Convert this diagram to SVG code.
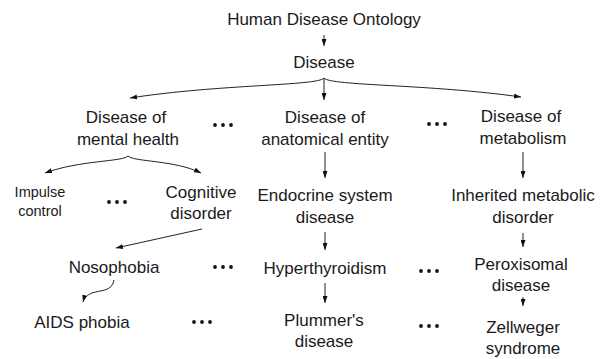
<svg xmlns="http://www.w3.org/2000/svg" width="610" height="359" viewBox="0 0 610 359">
<style>
text{font-family:"Liberation Sans",Arial,sans-serif;font-size:17px;fill:#1a1a1a;text-anchor:middle}
text.s{font-size:14.5px}
.c{fill:none;stroke:#222;stroke-width:1}
.d{fill:#111}
</style>
<defs>
<marker id="ah" viewBox="0 0 7 5" refX="7" refY="2.5" markerWidth="7" markerHeight="5" markerUnits="userSpaceOnUse" orient="auto">
<path d="M0,0 L7,2.5 L0,5 z" fill="#111"/>
</marker>
<g id="dots"><circle cx="0" cy="0" r="1.9"/><circle cx="8" cy="0" r="1.9"/><circle cx="16" cy="0" r="1.9"/></g>
</defs>
<rect width="610" height="359" fill="#fff"/>
<g id="connectors">
<path class="c" d="M324,35 L324,46" marker-end="url(#ah)"/>
<path class="c" d="M324,78 C318,86 220,84 130,98" marker-end="url(#ah)"/>
<path class="c" d="M324,78 L324,100" marker-end="url(#ah)"/>
<path class="c" d="M324,78 C330,86 430,84 521,97" marker-end="url(#ah)"/>
<path class="c" d="M128,156 C122,162 80,160 45,173" marker-end="url(#ah)"/>
<path class="c" d="M128,156 C134,162 175,160 201,173" marker-end="url(#ah)"/>
<path class="c" d="M325,152 L325,178" marker-end="url(#ah)"/>
<path class="c" d="M523,152 L523,178" marker-end="url(#ah)"/>
<path class="c" d="M202,229 L116,248" marker-end="url(#ah)"/>
<path class="c" d="M325,232 L325,250" marker-end="url(#ah)"/>
<path class="c" d="M523,233 L523,247" marker-end="url(#ah)"/>
<path class="c" d="M114,280 C112,292 100,290 92,293 C87,295 84,298 83,302" marker-end="url(#ah)"/>
<path class="c" d="M325,283 L325,303" marker-end="url(#ah)"/>
<path class="c" d="M523,297 L523,306" marker-end="url(#ah)"/>
</g>
<g id="n-root"><text x="324" y="25">Human Disease Ontology</text></g>
<g id="n-disease"><text x="324" y="68">Disease</text></g>
<g id="n-mental"><text x="126" y="123">Disease of</text><text x="128" y="145">mental health</text></g>
<g id="n-anat"><text x="325" y="123">Disease of</text><text x="325" y="145">anatomical entity</text></g>
<g id="n-metab"><text x="521" y="122">Disease of</text><text x="523" y="144">metabolism</text></g>
<g id="n-impulse"><text class="s" x="40" y="197">Impulse</text><text class="s" x="40" y="216">control</text></g>
<g id="n-cognitive"><text x="201" y="198">Cognitive</text><text x="201" y="219">disorder</text></g>
<g id="n-endocrine"><text x="325" y="201">Endocrine system</text><text x="325" y="223">disease</text></g>
<g id="n-inherited"><text x="523" y="201">Inherited metabolic</text><text x="523" y="223">disorder</text></g>
<g id="n-nosophobia"><text x="114" y="273">Nosophobia</text></g>
<g id="n-hyper"><text x="325" y="274">Hyperthyroidism</text></g>
<g id="n-perox"><text x="521" y="270">Peroxisomal</text><text x="521" y="291">disease</text></g>
<g id="n-aids"><text x="82" y="328">AIDS phobia</text></g>
<g id="n-plummer"><text x="324" y="326">Plummer's</text><text x="324" y="347">disease</text></g>
<g id="n-zell"><text x="523" y="333">Zellweger</text><text x="523" y="354">syndrome</text></g>
<g id="ellipses" class="d">
<use href="#dots" x="215" y="125"/>
<use href="#dots" x="429" y="124"/>
<use href="#dots" x="109" y="202"/>
<use href="#dots" x="215" y="267"/>
<use href="#dots" x="421" y="271"/>
<use href="#dots" x="194" y="322"/>
<use href="#dots" x="421" y="326"/>
</g>
</svg>
